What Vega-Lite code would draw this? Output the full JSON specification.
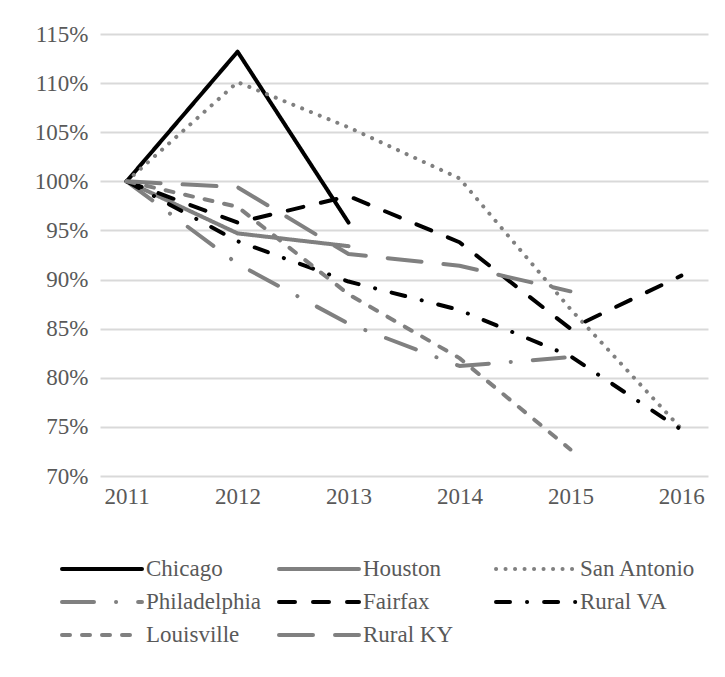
{
  "$schema": "https://vega.github.io/schema/vega-lite/v6.json",
  "width": 608,
  "height": 442,
  "autosize": {"type": "none"},
  "padding": {"left": 100, "top": 34, "right": 17, "bottom": 201},
  "background": "white",
  "config": {
    "view": {"stroke": null},
    "font": "Liberation Serif",
    "axis": {"labelFont": "Liberation Serif", "labelFontSize": 23, "labelColor": "#595959", "domain": false, "ticks": false},
    "legend": {"labelFont": "Liberation Serif", "labelFontSize": 23, "labelColor": "#595959"}
  },
  "data": {
    "values": [
      {"series": "Chicago", "year": "2011", "value": 1.0},
      {"series": "Chicago", "year": "2012", "value": 1.132},
      {"series": "Chicago", "year": "2013", "value": 0.958},
      {"series": "Houston", "year": "2011", "value": 1.0},
      {"series": "Houston", "year": "2012", "value": 0.947},
      {"series": "Houston", "year": "2013", "value": 0.934},
      {"series": "San Antonio", "year": "2011", "value": 1.0},
      {"series": "San Antonio", "year": "2012", "value": 1.101},
      {"series": "San Antonio", "year": "2013", "value": 1.055},
      {"series": "San Antonio", "year": "2014", "value": 1.003},
      {"series": "San Antonio", "year": "2015", "value": 0.87},
      {"series": "San Antonio", "year": "2016", "value": 0.748},
      {"series": "Philadelphia", "year": "2011", "value": 1.0},
      {"series": "Philadelphia", "year": "2012", "value": 0.916},
      {"series": "Philadelphia", "year": "2013", "value": 0.855},
      {"series": "Philadelphia", "year": "2014", "value": 0.812},
      {"series": "Philadelphia", "year": "2015", "value": 0.821},
      {"series": "Fairfax", "year": "2011", "value": 1.0},
      {"series": "Fairfax", "year": "2012", "value": 0.958},
      {"series": "Fairfax", "year": "2013", "value": 0.985},
      {"series": "Fairfax", "year": "2014", "value": 0.938},
      {"series": "Fairfax", "year": "2015", "value": 0.85},
      {"series": "Fairfax", "year": "2016", "value": 0.904},
      {"series": "Rural VA", "year": "2011", "value": 1.0},
      {"series": "Rural VA", "year": "2012", "value": 0.939},
      {"series": "Rural VA", "year": "2013", "value": 0.898},
      {"series": "Rural VA", "year": "2014", "value": 0.869},
      {"series": "Rural VA", "year": "2015", "value": 0.822},
      {"series": "Rural VA", "year": "2016", "value": 0.747},
      {"series": "Louisville", "year": "2011", "value": 1.0},
      {"series": "Louisville", "year": "2012", "value": 0.974},
      {"series": "Louisville", "year": "2013", "value": 0.885},
      {"series": "Louisville", "year": "2014", "value": 0.82},
      {"series": "Louisville", "year": "2015", "value": 0.727},
      {"series": "Rural KY", "year": "2011", "value": 1.0},
      {"series": "Rural KY", "year": "2012", "value": 0.994},
      {"series": "Rural KY", "year": "2013", "value": 0.926},
      {"series": "Rural KY", "year": "2014", "value": 0.914},
      {"series": "Rural KY", "year": "2015", "value": 0.888}
    ]
  },
  "mark": {"type": "line", "strokeWidth": 4, "strokeCap": "round", "strokeJoin": "round"},
  "encoding": {
    "x": {
      "field": "year", "type": "ordinal",
      "scale": {"type": "point", "padding": 0.24},
      "axis": {"title": null, "labelAngle": 0, "labelPadding": 9, "grid": false}
    },
    "y": {
      "field": "value", "type": "quantitative",
      "scale": {"domain": [0.7, 1.15], "zero": false, "nice": false},
      "axis": {"title": null, "format": ".0%", "values": [0.7, 0.75, 0.8, 0.85, 0.9, 0.95, 1.0, 1.05, 1.1, 1.15], "labelPadding": 12, "grid": true, "gridColor": "#d9d9d9", "gridWidth": 2}
    },
    "color": {
      "field": "series", "type": "nominal",
      "scale": {
        "domain": ["Chicago", "Houston", "San Antonio", "Philadelphia", "Fairfax", "Rural VA", "Louisville", "Rural KY"],
        "range": ["#000000", "#808080", "#808080", "#808080", "#000000", "#000000", "#808080", "#808080"]
      },
      "legend": {
        "title": null, "orient": "none", "legendX": -10, "legendY": 523, "direction": "horizontal", "columns": 3,
        "gridAlign": "all", "columnPadding": 9, "rowPadding": 9,
        "symbolType": "M-4,0H4", "symbolSize": 400, "symbolStrokeWidth": 4, "labelOffset": 32, "labelLimit": 300,
        "encode": {"symbols": {"update": {"strokeCap": {"value": "round"}, "fill": {"value": "transparent"}}}}
      }
    },
    "strokeDash": {
      "field": "series", "type": "nominal",
      "scale": {
        "domain": ["Chicago", "Houston", "San Antonio", "Philadelphia", "Fairfax", "Rural VA", "Louisville", "Rural KY"],
        "range": [[1, 0], [1, 0], [0.1, 9.4], [32, 22, 0.1, 22], [16, 18], [14, 17, 0.1, 17], [8, 12], [34, 22]]
      },
      "legend": {
        "title": null, "orient": "none", "legendX": -10, "legendY": 523, "direction": "horizontal", "columns": 3,
        "gridAlign": "all", "columnPadding": 9, "rowPadding": 9,
        "symbolType": "M-4,0H4", "symbolSize": 400, "symbolStrokeWidth": 4, "labelOffset": 32, "labelLimit": 300,
        "encode": {"symbols": {"update": {"strokeCap": {"value": "round"}, "fill": {"value": "transparent"}}}}
      }
    }
  }
}
